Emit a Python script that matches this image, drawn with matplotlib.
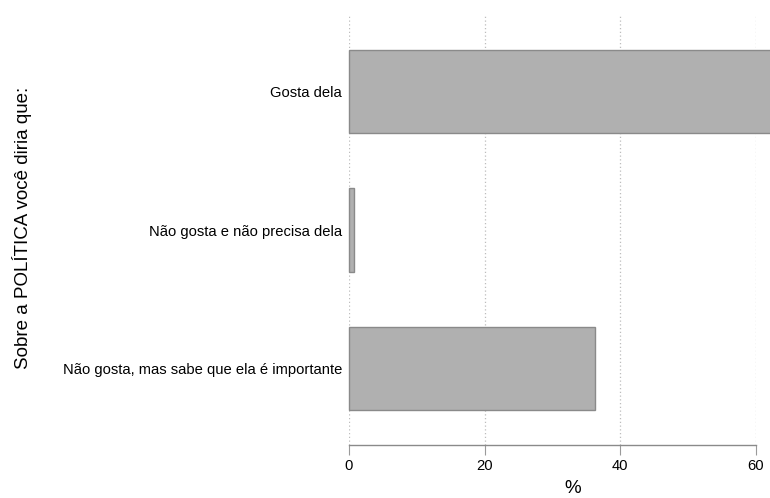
import matplotlib
matplotlib.use("Agg")
import matplotlib.pyplot as plt

categories = ["Gosta dela",
              "Não gosta e não precisa dela",
              "Não gosta, mas sabe que ela é importante"]
percent = [63.1, 0.7, 36.2]
xticks = [0, 20, 40, 60]

plt.rcParams['font.family'] = ['Liberation Sans', 'DejaVu Sans']

fig = plt.figure(figsize=(7.7, 4.98), dpi=100)
ax = fig.add_axes([0.4532, 0.1064, 0.9818 - 0.4532, 0.9699 - 0.1064])

ypos = list(range(len(categories)))
ax.barh(ypos, percent, height=0.6, color='#b0b0b0', edgecolor='#8a8a8a',
        linewidth=1.0, zorder=3, clip_on=False)

ax.set_xlim(0, 60)
ax.set_ylim(2.55, -0.55)
ax.set_yticks(ypos)
ax.set_yticklabels(categories, fontsize=10.6)
ax.set_xticks(xticks)
ax.set_xticklabels([str(t) for t in xticks], fontsize=10.6)

ax.tick_params(axis='y', length=0, pad=5)
ax.tick_params(axis='x', length=7, width=0.8, color='#9a9a9a', pad=3)

for x in xticks:
    ax.axvline(x, color='#bdbdbd', linestyle=(0, (1, 2)), linewidth=0.9, zorder=1)

for side in ['top', 'right', 'left']:
    ax.spines[side].set_visible(False)
ax.spines['bottom'].set_color('#8a8a8a')
ax.spines['bottom'].set_linewidth(1.0)

fig.text(573 / 770, 0.02, '%', fontsize=13.5, ha='center', va='center')
fig.text(0.029, 0.543, 'Sobre a POLÍTICA você diria que:', rotation=90,
         fontsize=13.5, ha='center', va='center')

fig.savefig('out.png', dpi=100)
